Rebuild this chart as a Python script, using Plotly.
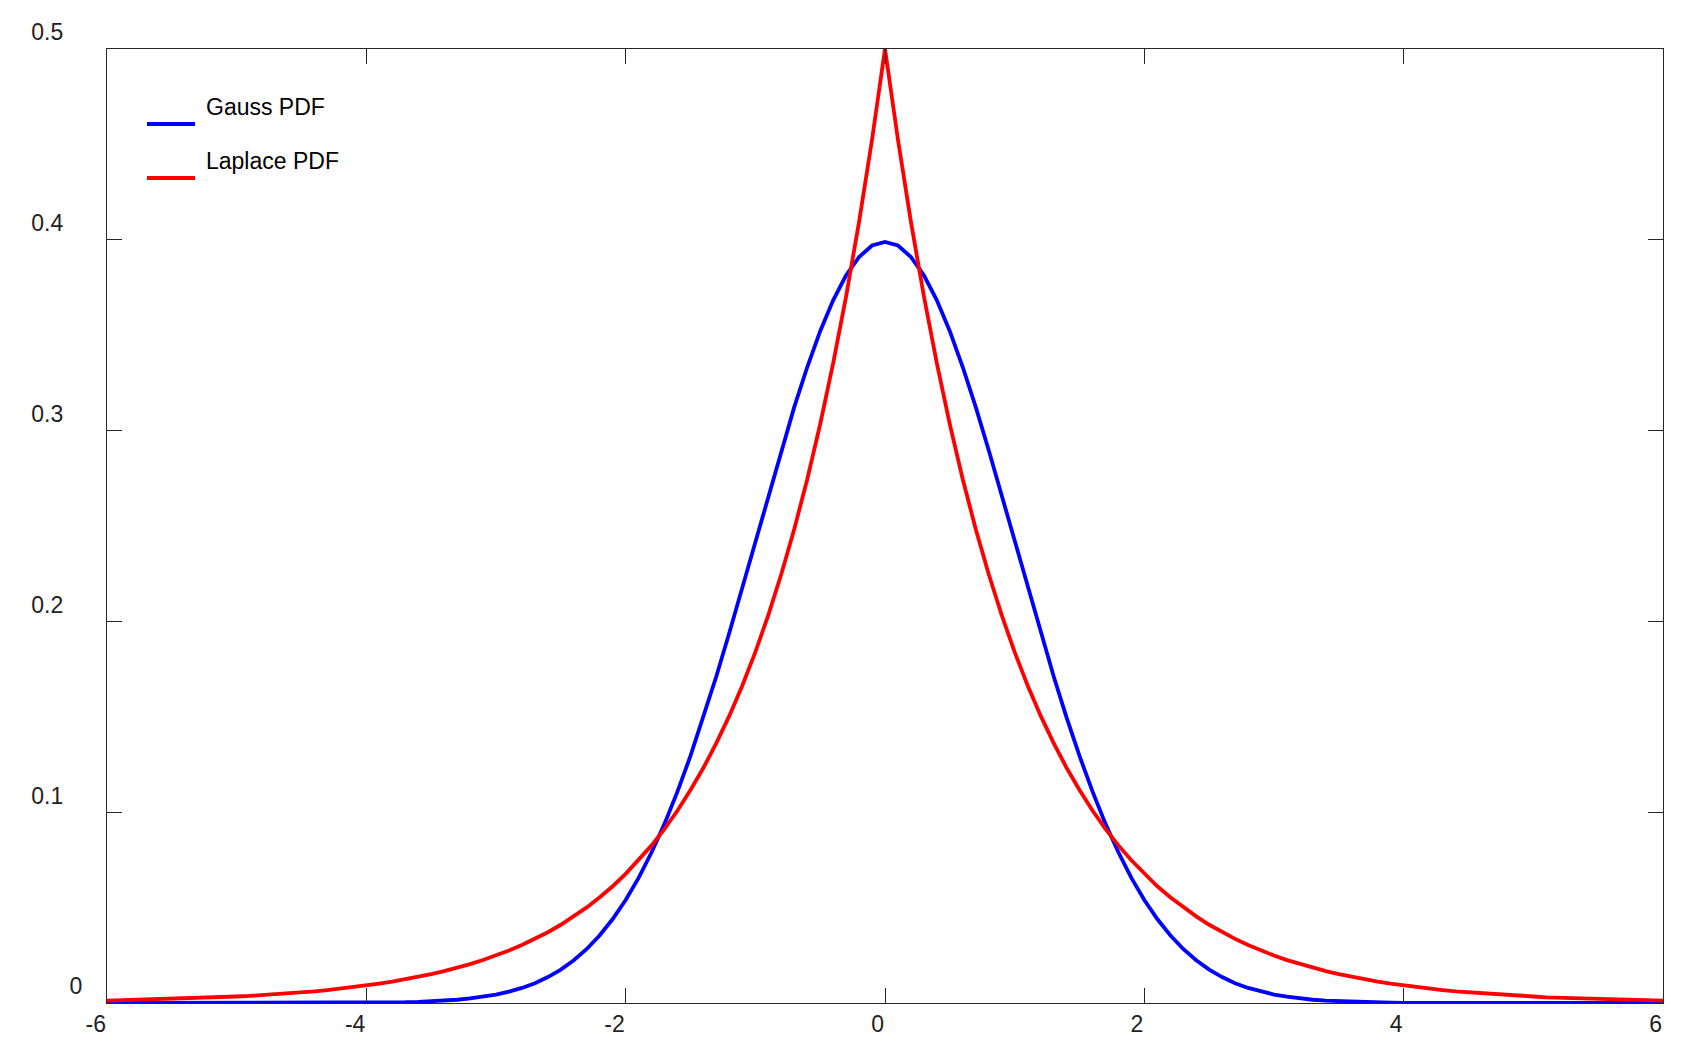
import plotly.graph_objects as go

# x grid from -6 to 6, step 0.1
x_vals = [round(-6 + 0.1 * i, 1) for i in range(121)]

# Gauss PDF values (from x=-6 to x=6)
gauss_pdf = [
    0.0000, 0.0000, 0.0000, 0.0000, 0.0000, 0.0000, 0.0000, 0.0000, 0.0000, 0.0000,
    0.0000, 0.0000, 0.0000, 0.0000, 0.0000, 0.0000, 0.0000, 0.0001, 0.0001, 0.0001,
    0.0001, 0.0002, 0.0003, 0.0004, 0.0006, 0.0009, 0.0012, 0.0017, 0.0024, 0.0033,
    0.0044, 0.0060, 0.0079, 0.0104, 0.0136, 0.0175, 0.0224, 0.0283, 0.0355, 0.0440,
    0.0540, 0.0656, 0.0790, 0.0940, 0.1109, 0.1295, 0.1497, 0.1714, 0.1942, 0.2179,
    0.2420, 0.2661, 0.2897, 0.3123, 0.3332, 0.3521, 0.3683, 0.3814, 0.3910, 0.3970,
    0.3989,
    0.3970, 0.3910, 0.3814, 0.3683, 0.3521, 0.3332, 0.3123, 0.2897, 0.2661, 0.2420,
    0.2179, 0.1942, 0.1714, 0.1497, 0.1295, 0.1109, 0.0940, 0.0790, 0.0656, 0.0540,
    0.0440, 0.0355, 0.0283, 0.0224, 0.0175, 0.0136, 0.0104, 0.0079, 0.0060, 0.0044,
    0.0033, 0.0024, 0.0017, 0.0012, 0.0009, 0.0006, 0.0004, 0.0003, 0.0002, 0.0001,
    0.0001, 0.0001, 0.0001, 0.0000, 0.0000, 0.0000, 0.0000, 0.0000, 0.0000, 0.0000,
    0.0000, 0.0000, 0.0000, 0.0000, 0.0000, 0.0000, 0.0000, 0.0000, 0.0000, 0.0000,
]

# Laplace PDF values (from x=-6 to x=6)
laplace_pdf = [
    0.0012, 0.0014, 0.0015, 0.0017, 0.0018, 0.0020, 0.0023, 0.0025, 0.0028, 0.0030,
    0.0034, 0.0037, 0.0041, 0.0045, 0.0050, 0.0056, 0.0061, 0.0068, 0.0075, 0.0083,
    0.0092, 0.0101, 0.0112, 0.0124, 0.0137, 0.0151, 0.0167, 0.0184, 0.0204, 0.0225,
    0.0249, 0.0275, 0.0304, 0.0336, 0.0371, 0.0410, 0.0454, 0.0501, 0.0554, 0.0612,
    0.0677, 0.0748, 0.0826, 0.0913, 0.1009, 0.1116, 0.1233, 0.1363, 0.1506, 0.1664,
    0.1839, 0.2033, 0.2247, 0.2483, 0.2744, 0.3033, 0.3352, 0.3704, 0.4094, 0.4524,
    0.5000,
    0.4524, 0.4094, 0.3704, 0.3352, 0.3033, 0.2744, 0.2483, 0.2247, 0.2033, 0.1839,
    0.1664, 0.1506, 0.1363, 0.1233, 0.1116, 0.1009, 0.0913, 0.0826, 0.0748, 0.0677,
    0.0612, 0.0554, 0.0501, 0.0454, 0.0410, 0.0371, 0.0336, 0.0304, 0.0275, 0.0249,
    0.0225, 0.0204, 0.0184, 0.0167, 0.0151, 0.0137, 0.0124, 0.0112, 0.0101, 0.0092,
    0.0083, 0.0075, 0.0068, 0.0061, 0.0056, 0.0050, 0.0045, 0.0041, 0.0037, 0.0034,
    0.0030, 0.0028, 0.0025, 0.0023, 0.0020, 0.0018, 0.0017, 0.0015, 0.0014, 0.0012,
]

series_names = ["Gauss PDF", "Laplace PDF"]
series_colors = ["#0000ff", "#ff0000"]

x_ticks = [-6, -4, -2, 0, 2, 4, 6]
y_ticks = [0, 0.1, 0.2, 0.3, 0.4, 0.5]
y_labels = ["0", "0.1", "0.2", "0.3", "0.4", "0.5"]

axis_col = "#262626"
font = dict(family="Liberation Sans, Arial, sans-serif", size=23, color="#222222")

fig = go.Figure()
for name, vals, col in zip(series_names, [gauss_pdf, laplace_pdf], series_colors):
    fig.add_trace(go.Scatter(x=x_vals, y=vals, mode="lines", name=name,
                             line=dict(color=col, width=3.8), showlegend=False))

# hand made legend (text sits above the sample line, like the original)
legend_y = [0.9214, 0.8648]
for name, col, ly in zip(series_names, series_colors, legend_y):
    fig.add_shape(type="line", xref="paper", yref="paper",
                  x0=0.0257, x1=0.0566, y0=ly, y1=ly,
                  line=dict(color=col, width=4))
    fig.add_annotation(text=name, xref="paper", yref="paper",
                       x=0.0623, y=ly + 0.0175, xanchor="left", yanchor="middle",
                       showarrow=False, font=dict(family=font["family"], size=23, color="#000000"))

# the decimal labels sit a bit further out than the "0" label
y_text = [t if t == "0" else t + "\u00a0\u00a0\u00a0" for t in y_labels]

fig.update_xaxes(range=[-6, 6], tickvals=x_ticks, ticktext=[str(v) for v in x_ticks],
                 showline=True, linecolor=axis_col, linewidth=1, mirror="ticks",
                 ticks="inside", ticklen=15, tickcolor=axis_col, tickwidth=1,
                 ticklabelposition="outside left", showgrid=False, zeroline=False,
                 tickfont=font)
fig.update_yaxes(range=[0, 0.5], tickvals=y_ticks, ticktext=y_text,
                 showline=True, linecolor=axis_col, linewidth=1, mirror="ticks",
                 ticks="inside", ticklen=15, tickcolor=axis_col, tickwidth=1,
                 ticklabelposition="outside top", ticklabelstandoff=19,
                 showgrid=False, zeroline=False, tickfont=font)

# page body has an 8px margin, so the figure is shifted to compensate
fig.update_layout(width=1677, height=1042,
                  margin=dict(l=99, r=22, t=41, b=47),
                  paper_bgcolor="white", plot_bgcolor="white")

fig.write_html("out.html")
